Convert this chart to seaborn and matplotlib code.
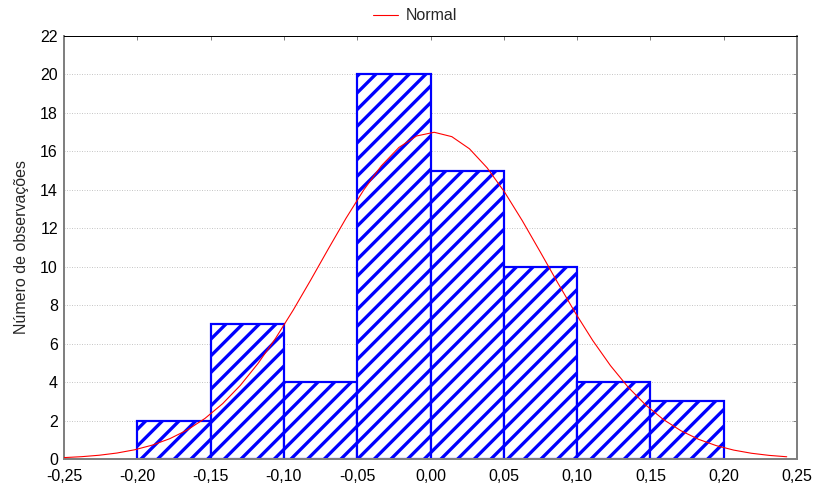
import numpy as np
import pandas as pd
import matplotlib
matplotlib.use("Agg")
import matplotlib.pyplot as plt
import seaborn as sns

# Histogram of residuals: bin edges and counts per bin
bin_edges = [-0.20, -0.15, -0.10, -0.05, 0.00, 0.05, 0.10, 0.15, 0.20]
counts = [2, 7, 4, 20, 15, 10, 4, 3]

# Fitted normal curve parameters (expected counts per bin width)
normal_mean = 0.002
normal_sd = 0.0763
curve_x_start, curve_x_end, curve_points = -0.25, 0.243, 42

x_ticks = [-0.25, -0.20, -0.15, -0.10, -0.05, 0.00, 0.05, 0.10, 0.15, 0.20, 0.25]
y_ticks = [0, 2, 4, 6, 8, 10, 12, 14, 16, 18, 20, 22]
y_label = "Número de observações"
legend_label = "Normal"

DPI = 100
W, H = 817, 486


def px(v):
    """Convert a size in pixels to points at the figure dpi."""
    return v * 72.0 / DPI


BLUE = "#0000ff"
sns.set_theme(style="white")
plt.rcParams["font.family"] = ["Liberation Sans", "DejaVu Sans"]
plt.rcParams["hatch.linewidth"] = px(3.3)
plt.rcParams["hatch.color"] = BLUE

fig = plt.figure(figsize=(W / DPI, H / DPI), dpi=DPI)
ax = fig.add_axes([64 / W, (H - 459) / H, (797 - 64) / W, (459 - 36) / H])

centers = [(a + b) / 2 for a, b in zip(bin_edges[:-1], bin_edges[1:])]
df = pd.DataFrame({"x": centers, "n": counts})
sns.histplot(data=df, x="x", weights="n", bins=bin_edges, ax=ax,
             color="white", edgecolor=BLUE, linewidth=px(2.2), alpha=1.0)
for p in ax.patches:
    p.set_hatch("//")
    p.set_facecolor("white")
    p.set_edgecolor(BLUE)
    p.set_zorder(2)

binw = bin_edges[1] - bin_edges[0]
total = sum(counts)
xc = np.linspace(curve_x_start, curve_x_end, curve_points)
yc = total * binw / (normal_sd * np.sqrt(2 * np.pi)) * np.exp(-0.5 * ((xc - normal_mean) / normal_sd) ** 2)
sns.lineplot(x=xc, y=yc, ax=ax, color="#ff0000", linewidth=px(1.1), label=legend_label,
             zorder=3, legend=False)

FS = px(16)
ax.set_xlim(-0.25, 0.25)
ax.set_ylim(0, 22)
ax.set_xticks(x_ticks)
ax.set_xticklabels([f"{v:.2f}".replace(".", ",") for v in x_ticks], fontsize=FS)
ax.set_yticks(y_ticks)
ax.set_yticklabels([str(v) for v in y_ticks], fontsize=FS)
ax.set_xlabel("")
ax.set_ylabel(y_label, fontsize=px(16), labelpad=px(11))

for yv in y_ticks[1:-1]:
    ax.axhline(yv, color="#c8c8c8", linestyle=(0, (1, 1.5)), linewidth=px(1.0), zorder=0)

gray = "#808080"
for side in ("left", "bottom", "right"):
    ax.spines[side].set_color(gray)
    ax.spines[side].set_linewidth(px(2.0))
ax.spines["top"].set_color("black")
ax.spines["top"].set_linewidth(px(1.0))

ax.tick_params(axis="y", which="both", direction="out", length=px(4), width=px(1),
               color=gray, labelcolor="black", pad=px(2), right=True, labelright=False)
ax.tick_params(axis="x", which="both", direction="out", length=0, width=px(1),
               color=gray, labelcolor="black", pad=px(10), top=True, labeltop=False)
for t in ax.xaxis.get_major_ticks():
    t.tick2line.set_marker(3)  # inward tick on the top spine
    t.tick2line.set_markersize(px(4))
    t.tick2line.set_color("black")
for t in ax.yaxis.get_major_ticks():
    t.tick2line.set_marker(0)  # inward tick on the right spine
    t.tick2line.set_markersize(px(4))

handles, labels = ax.get_legend_handles_labels()
fig.legend(handles, labels, loc="center", bbox_to_anchor=(0.508, 1 - 16 / H),
           frameon=False, fontsize=FS, handlelength=1.6, handletextpad=0.5)

fig.savefig("out.png", dpi=DPI)
